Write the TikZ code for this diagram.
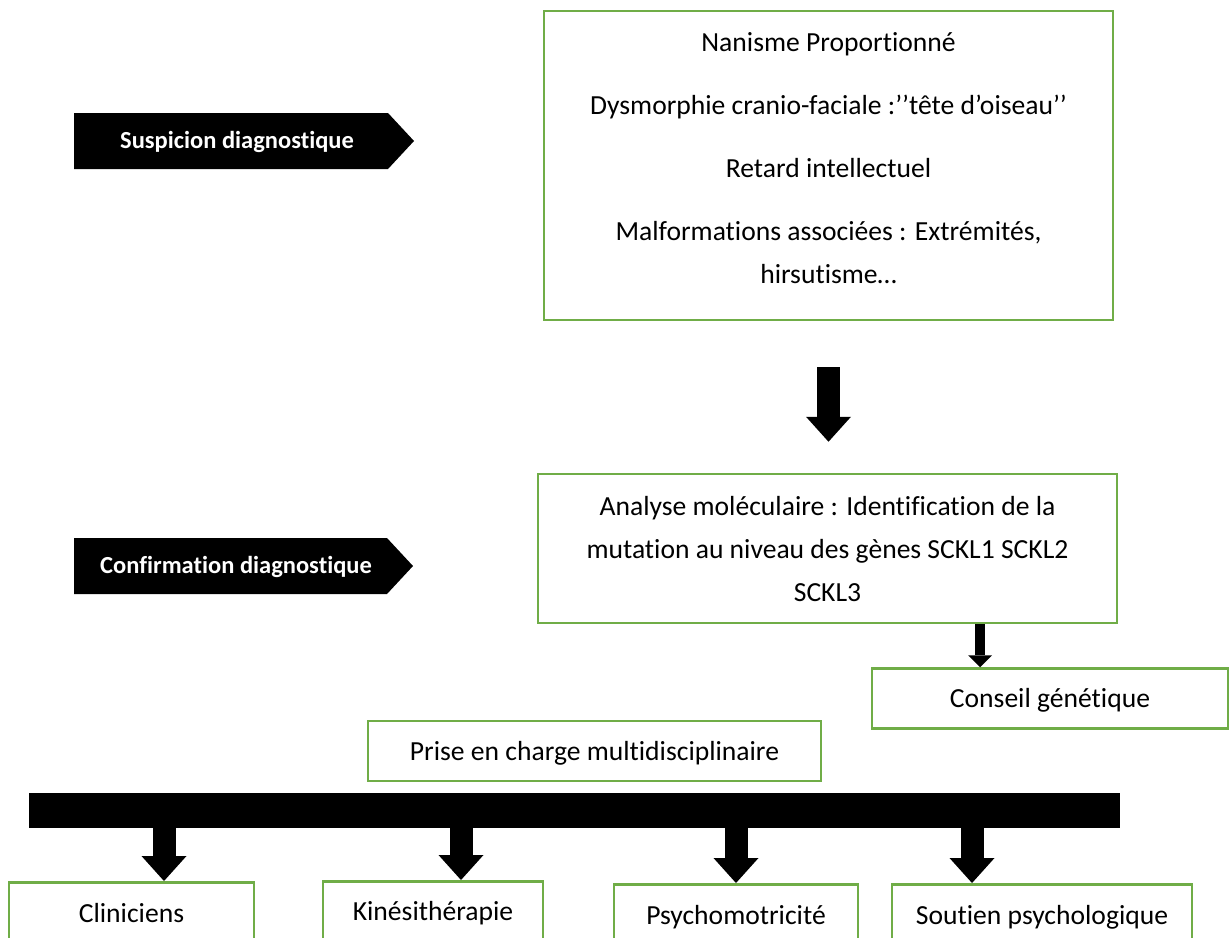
\documentclass[tikz,border=0pt]{standalone}
\usepackage{fontspec}
\setmainfont{Carlito}[Ligatures=NoCommon]
\usetikzlibrary{arrows.meta}
\definecolor{boxgreen}{HTML}{70AD47}
\begin{document}
\begin{tikzpicture}[x=1pt,y=-1pt,
  box/.style={draw=boxgreen, line width=2.5pt, fill=white, inner sep=0pt},
  txt/.style={font=\fontsize{27.6}{43}\selectfont, inner sep=0pt, text=black},
  lbl/.style={font=\fontsize{24.5}{30}\selectfont\bfseries, inner sep=0pt, text=white},
  tag/.style={fill=black},
  bigarrow/.style={draw=black, line width=23pt, -{Triangle[width=45pt,length=25pt,line width=0pt]}},
  smallarrow/.style={draw=black, line width=10pt, -{Triangle[width=24pt,length=12pt,line width=0pt]}}
]
\clip (0,0) rectangle (1231,937);

% stage labels
\fill[tag] (74,113) -- (388,113) -- (414,141) -- (388,169) -- (74,169) -- cycle;
\node[lbl, anchor=base] (suspicion) at (237,148) {Suspicion diagnostique};
\fill[tag] (74,538) -- (387,538) -- (413,566) -- (387,594) -- (74,594) -- cycle;
\node[lbl, anchor=base] (confirmation) at (236,573) {Confirmation diagnostique};

% clinical signs
\node[box, minimum width=569pt, minimum height=309pt] (signs) at (828.5,165.5) {};
\node[txt, anchor=base] (signstext) at (828.5,51) {\begin{tabular}[t]{@{}c@{}}Nanisme Proportionné\\[20pt]
Dysmorphie cranio-faciale :’’tête d’oiseau’’\\[20pt]
Retard intellectuel\\[20pt]
Malformations associées : Extrémités,\\
hirsutisme…\end{tabular}};

% molecular analysis
\node[box, minimum width=579pt, minimum height=149pt] (mol) at (827.5,548.5) {};
\node[txt, anchor=base] (moltext) at (827.5,515) {\begin{tabular}[t]{@{}c@{}}Analyse moléculaire : Identification de la\\
mutation au niveau des gènes SCKL1 SCKL2\\
SCKL3\end{tabular}};

% genetic counselling
\node[box, minimum width=356pt, minimum height=60pt] (cons) at (1050,698.5) {};
\node[txt, anchor=base] (constext) at (1050,707) {Conseil génétique};

% multidisciplinary care
\node[box, minimum width=453pt, minimum height=60pt] (care) at (594.5,751) {};
\node[txt, anchor=base] (caretext) at (594.5,760) {Prise en charge multidisciplinaire};

% distribution bar
\node[fill=black, inner sep=0pt, minimum width=1091pt, minimum height=35pt] (bar) at (574.5,810.5) {};

% care teams
\node[box, anchor=north, minimum width=245pt, minimum height=100pt] (clin) at (131.5,881) {};
\node[txt, anchor=base] (clintext) at (131.5,922) {Cliniciens};
\node[box, anchor=north, minimum width=220pt, minimum height=100pt] (kine) at (433,880) {};
\node[txt, anchor=base] (kinetext) at (433,920) {Kinésithérapie};
\node[box, anchor=north, minimum width=244pt, minimum height=100pt] (psymot) at (736,883) {};
\node[txt, anchor=base] (psymottext) at (736,924) {Psychomotricité};
\node[box, anchor=north, minimum width=300pt, minimum height=100pt] (soutien) at (1042,883) {};
\node[txt, anchor=base] (soutientext) at (1042,924) {Soutien psychologique};

% arrows
\draw[bigarrow, shorten <=46pt, shorten >=31pt] (signs.south) -- (mol.north -| signs.south);
\coordinate (x0) at (980,0);
\draw[smallarrow] (mol.south -| x0) -- (cons.north -| x0);
\coordinate (x1) at (164,0);
\coordinate (x2) at (461,0);
\coordinate (x3) at (736,0);
\coordinate (x4) at (972,0);
\draw[bigarrow] (bar.south -| x1) -- (clin.north -| x1);
\draw[bigarrow] (bar.south -| x2) -- (kine.north -| x2);
\draw[bigarrow] (bar.south -| x3) -- (psymot.north -| x3);
\draw[bigarrow] (bar.south -| x4) -- (soutien.north -| x4);
\end{tikzpicture}
\end{document}
